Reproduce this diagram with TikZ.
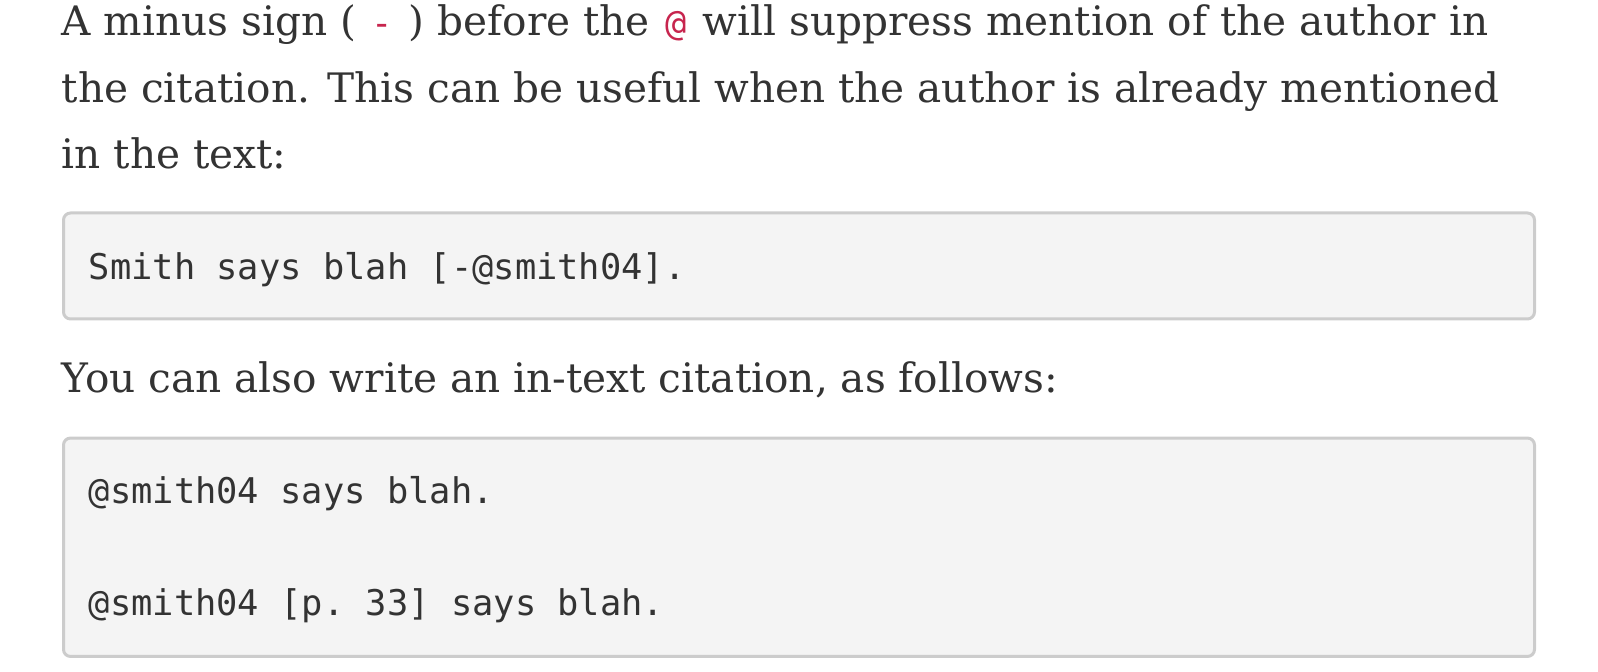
\documentclass[tikz,border=0pt]{standalone}
\usepackage{fontspec}
\setmainfont{DejaVu Serif}
\setmonofont{DejaVu Sans Mono}
\definecolor{ink}{HTML}{333333}
\definecolor{codered}{HTML}{C7254E}
\definecolor{boxfill}{HTML}{F4F4F4}
\definecolor{boxline}{HTML}{CCCCCC}
\newcommand{\inl}[1]{\hspace{0.7pt}{\ttfamily\fontsize{8.85}{10}\selectfont\color{codered}#1}\hspace{0.7pt}}

\tikzset{
  codebox/.style={draw=boxline, line width=0.75pt, fill=boxfill, rounded corners=1.75pt, minimum width=367.75pt, inner sep=0pt},
  prose/.style={anchor=base west, inner sep=0pt, text=ink, font=\fontsize{10.15}{12}\selectfont},
  code/.style={anchor=base west, inner sep=0pt, text=ink, font=\ttfamily\fontsize{8.85}{10}\selectfont}
}

\begin{document}
\begin{tikzpicture}[x=0.25pt,y=-0.25pt]
  \useasboundingbox (0,0) rectangle (1598,672);

  \node[prose] (p1) at (61,36) {A minus sign ( \inl{-} ) before the \inl{@} will suppress mention of the author in};
  \node[prose] (p2) at (61,102.5) {the citation. This can be useful when the author is already mentioned};
  \node[prose] (p3) at (61,169) {in the text:};

  \node[codebox, minimum height=26.5pt] (box1) at (799,266) {};
  \node[code] (c1) at (88,280) {Smith says blah [-@smith04].};

  \node[prose] (p4) at (61,393) {You can also write an in-text citation, as follows:};

  \node[codebox, minimum height=54.6pt] (box2) at (799,547.25) {};
  \node[code] (c2) at (88,504) {@smith04 says blah.};
  \node[code] (c3) at (88,616) {@smith04 [p. 33] says blah.};
\end{tikzpicture}
\end{document}
